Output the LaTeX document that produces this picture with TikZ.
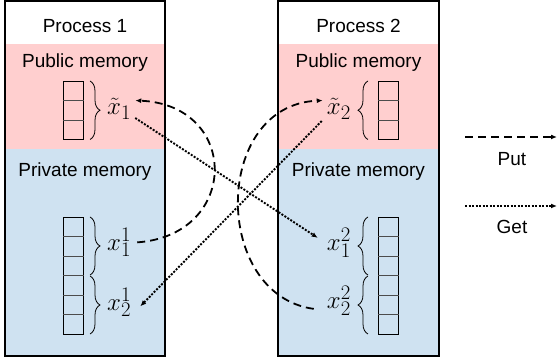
\documentclass[tikz,border=0pt]{standalone}
\usepackage{fontspec}
\setsansfont{Liberation Sans}
\usetikzlibrary{arrows.meta,decorations.pathreplacing}
\definecolor{pubc}{RGB}{255,207,207}
\definecolor{privc}{RGB}{207,226,241}
\begin{document}
\begin{tikzpicture}[x=1pt,y=1pt,
  lbl/.style={font=\fontsize{19}{23}\selectfont\sffamily, inner sep=0pt},
  mlbl/.style={font=\fontsize{24.88}{28}\selectfont, inner sep=1pt},
  putarrow/.style={line width=1.8pt, dash pattern=on 8pt off 5pt, -{Latex[length=6pt,width=5pt]}},
  getarrow/.style={line width=1.9pt, dash pattern=on 2pt off 1.5pt, -{Latex[length=6pt,width=5pt]}},
  cellbox/.style={draw=black, line width=0.9pt},
  cellline/.style={draw=black!70, line width=0.9pt},
  bracestyle/.style={decorate, decoration={brace, amplitude=10pt}, line width=0.8pt},
  procbox/.style={line width=1.5pt}]
\useasboundingbox (0,0) rectangle (558,361);
% process 1
\fill[pubc] (5,212) rectangle (165,317);
\fill[privc] (5,5) rectangle (165,212);
\draw[procbox] (5,5) rectangle (165,360);
% process 2
\fill[pubc] (278,212) rectangle (439,317);
\fill[privc] (278,5) rectangle (439,212);
\draw[procbox] (278,5) rectangle (439,360);
% titles
\node[lbl] (t1) at (85,335) {Process 1};
\node[lbl] (pub1) at (85,298) {Public memory};
\node[lbl] (priv1) at (85,189) {Private memory};
\node[lbl] (t2) at (358.5,335) {Process 2};
\node[lbl] (pub2) at (358.5,298) {Public memory};
\node[lbl] (priv2) at (358.5,189) {Private memory};
% arrays
\foreach \x in {63,378} {
  \draw[cellbox] (\x,221.5) rectangle +(20.5,58.5);
  \foreach \y in {241,260.5} \draw[cellline] (\x,\y) -- +(20.5,0);
  \draw[cellbox] (\x,27) rectangle +(20.5,117);
  \foreach \y in {46.5,66,85.5,105,124.5} \draw[cellline] (\x,\y) -- +(20.5,0);
}
% braces
\draw[bracestyle] (90,280) -- (90,221.5);
\draw[bracestyle] (90,144) -- (90,86);
\draw[bracestyle] (90,85) -- (90,27);
\draw[bracestyle] (368,221.5) -- (368,280);
\draw[bracestyle] (368,86) -- (368,144);
\draw[bracestyle] (368,27) -- (368,85);
% labels
\node[mlbl, anchor=base west] (xt1) at (106,246) {$\tilde{x}_1$};
\node[mlbl, anchor=base west] (x11) at (106,110.5) {$x_1^1$};
\node[mlbl, anchor=base west] (x21) at (106,50.5) {$x_2^1$};
\node[mlbl, anchor=base east] (xt2) at (352,246) {$\tilde{x}_2$};
\node[mlbl, anchor=base east] (x12) at (352,110) {$x_1^2$};
\node[mlbl, anchor=base east] (x22) at (352,52) {$x_2^2$};
% put arrows
\draw[putarrow] ([xshift=5pt]x11.east) .. controls (240,126) and (240,256) .. ([shift={(3pt,-3pt)}]xt1.north east);
\draw[putarrow] ([xshift=-12pt,yshift=-8pt]x22.west) .. controls (212,66) and (212,256) .. ([shift={(-3pt,-3pt)}]xt2.north west);
% get arrows
\draw[getarrow] ([shift={(3pt,3pt)}]xt1.south east) -- ([shift={(-8pt,5pt)}]x12.west);
\draw[getarrow] ([shift={(-4pt,0pt)}]xt2.south west) -- ([shift={(8pt,-4pt)}]x21.east);
% legend
\coordinate (pa) at (465,224);
\coordinate (pb) at (557,224);
\draw[putarrow] (pa) -- (pb);
\node[lbl] (putl) at (512,202) {Put};
\coordinate (ga) at (465,155);
\coordinate (gb) at (557,155);
\draw[getarrow] (ga) -- (gb);
\node[lbl] (getl) at (512,134) {Get};
\end{tikzpicture}
\end{document}
